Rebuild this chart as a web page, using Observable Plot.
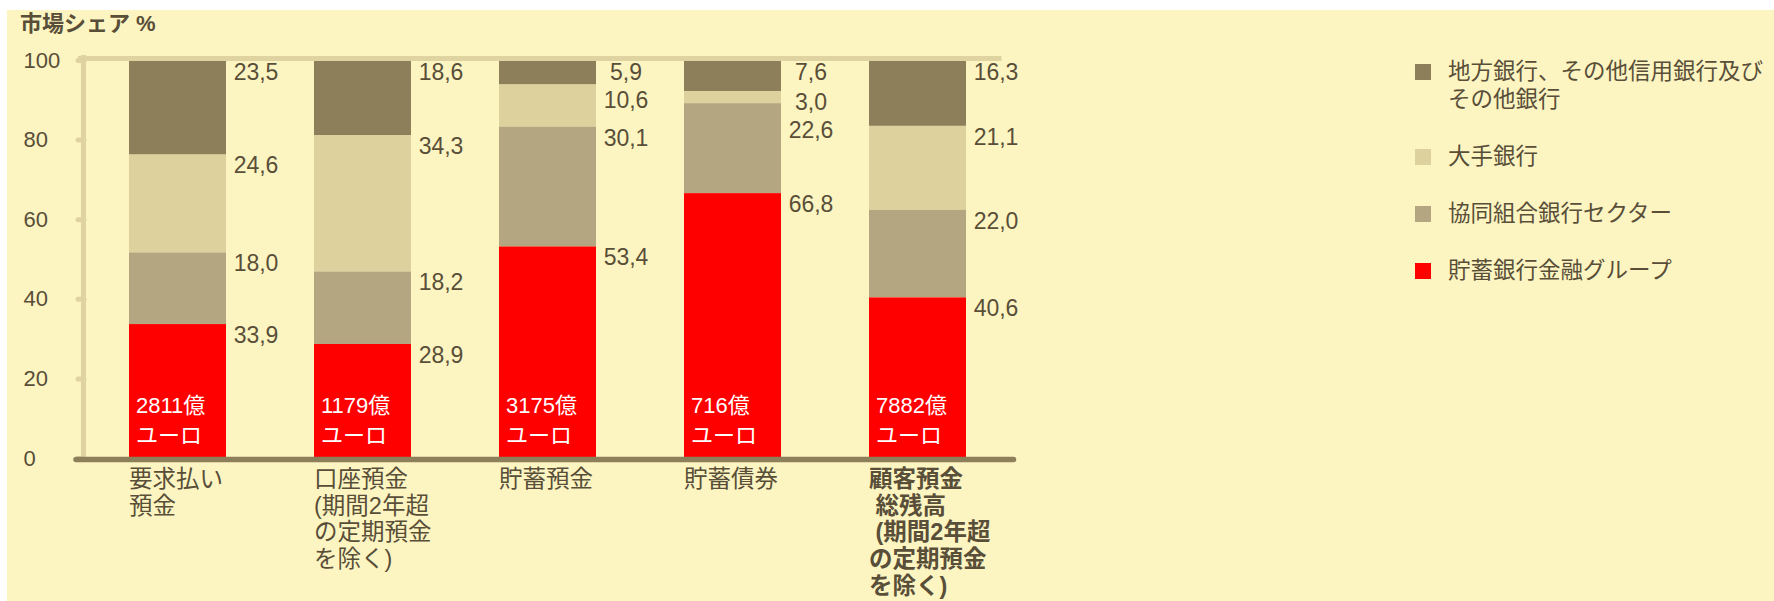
<!DOCTYPE html>
<html><head><meta charset="utf-8">
<script src="https://cdn.jsdelivr.net/npm/d3@7"></script>
<script src="https://cdn.jsdelivr.net/npm/@observablehq/plot@0.6"></script>
<style>
body{margin:0;background:#fff;}
#wrap{position:relative;width:1774px;height:601px;overflow:hidden;font-family:"Liberation Sans","Noto Sans CJK JP",sans-serif;color:#594E38;}
#bg{position:absolute;left:7px;top:10px;right:0;bottom:0;background:#FCF5C2;}
#title{position:absolute;left:20px;top:11px;font-size:22px;font-weight:bold;line-height:26px;white-space:nowrap;}
#chart{position:absolute;left:0;top:0;}
#legend{position:absolute;left:1415px;top:58px;font-size:22.5px;line-height:28px;}
.item{display:flex;align-items:flex-start;margin-bottom:29px;white-space:pre;}
.sw{width:16px;height:16px;margin-top:6px;margin-right:17px;flex:none;}
</style></head>
<body><div id="wrap"><div id="bg"></div><div id="chart"></div><div id="title">市場シェア %</div><div id="legend"></div></div>
<script>
const categories = [
  "要求払い\n預金",
  "口座預金\n(期間2年超\nの定期預金\nを除く)",
  "貯蓄預金",
  "貯蓄債券",
  "顧客預金\n\u00a0総残高\n\u00a0(期間2年超\nの定期預金\nを除く)"
];
const groups = ["地方銀行、その他信用銀行及び\nその他銀行", "大手銀行", "協同組合銀行セクター", "貯蓄銀行金融グループ"];
const colors = ["#8E7F5B", "#DDD19E", "#B3A680", "#FF0000"];
const regional = [23.5, 18.6, 5.9, 7.6, 16.3];
const bigBanks = [24.6, 34.3, 10.6, 3.0, 21.1];
const cooperative = [18.0, 18.2, 30.1, 22.6, 22.0];
const savingsBanks = [33.9, 28.9, 53.4, 66.8, 40.6];
const totals = ["2811億\nユーロ", "1179億\nユーロ", "3175億\nユーロ", "716億\nユーロ", "7882億\nユーロ"];
const yTicks = [0, 20, 40, 60, 80, 100];

const series = [regional, bigBanks, cooperative, savingsBanks];
const data = groups.flatMap((g, gi) => categories.map((c, ci) => ({cat: c, group: g, value: series[gi][ci]})));
const stackOrder = [groups[3], groups[2], groups[1], groups[0]];
const fmt = v => v.toFixed(1).replace(".", ",");

// label anchors: top of each segment, pushed down so labels in a column never collide
const minGap = 7;
const labels = [];
categories.forEach((c, ci) => {
  let top = 100, prev = Infinity;
  groups.forEach((g, gi) => {
    const v = series[gi][ci];
    const ly = Math.min(top, prev - minGap);
    labels.push({cat: c, value: v, ly});
    prev = ly;
    top -= v;
  });
});

const FONT = '"Liberation Sans","Noto Sans CJK JP",sans-serif';
const TEXT = "#594E38", TAN = "#DED3A1", DARK = "#8E7F5B";
const W = 1100, H = 601;

const chart = Plot.plot({
  width: W, height: H,
  marginLeft: 84, marginRight: W - 1011.5, marginTop: 61, marginBottom: 142,
  style: {background: "transparent", fontFamily: FONT, color: TEXT, overflow: "visible"},
  x: {domain: categories, paddingInner: 0.477, paddingOuter: 0.24, axis: null},
  y: {domain: [0, 100], axis: null},
  color: {domain: groups, range: colors},
  marks: [
    Plot.frame({anchor: "left", stroke: TAN, strokeWidth: 5, dx: -1, insetTop: -4}),
    Plot.axisY(yTicks, {label: null, tickSize: 6, tickPadding: 55, textAnchor: "start", stroke: TAN, strokeWidth: 5, strokeLinecap: "round", fill: TEXT, fontSize: 22, dy: -1}),
    Plot.barY(data, Plot.stackY({x: "cat", y: "value", z: "group", fill: "group", order: stackOrder})),
    Plot.text(labels, {x: "cat", y: "ly", text: d => fmt(d.value), textAnchor: "middle", lineAnchor: "top", dx: 78, dy: 2, fontSize: 23, fill: TEXT}),
    Plot.text(categories, {x: d => d, y: () => 0, text: (d, i) => totals[i], textAnchor: "start", lineAnchor: "bottom", dx: -42, dy: -17, fontSize: 22, lineHeight: 1.32, fill: "#fff"}),
    Plot.ruleY([100], {stroke: TAN, strokeWidth: 5, dy: -3, insetLeft: -6, insetRight: 10}),
    Plot.ruleY([0], {stroke: DARK, strokeWidth: 5.5, strokeLinecap: "round", dy: 0, insetLeft: -8, insetRight: -2}),
    Plot.axisX(categories.slice(0, 4), {label: null, tickSize: 0, tickPadding: 9, textAnchor: "start", dx: -49, fontSize: 23.5, lineHeight: 1.13, fill: TEXT}),
    Plot.axisX([categories[4]], {label: null, tickSize: 0, tickPadding: 9, textAnchor: "start", dx: -49, fontSize: 23.5, lineHeight: 1.13, fontWeight: "bold", fill: TEXT})
  ]
});
document.getElementById("chart").appendChild(chart);

const legend = document.getElementById("legend");
groups.forEach((g, i) => {
  const item = document.createElement("div");
  item.className = "item";
  const sw = document.createElement("span");
  sw.className = "sw";
  sw.style.background = colors[i];
  const label = document.createElement("span");
  label.textContent = g;
  item.appendChild(sw);
  item.appendChild(label);
  legend.appendChild(item);
});
</script>
</body></html>
